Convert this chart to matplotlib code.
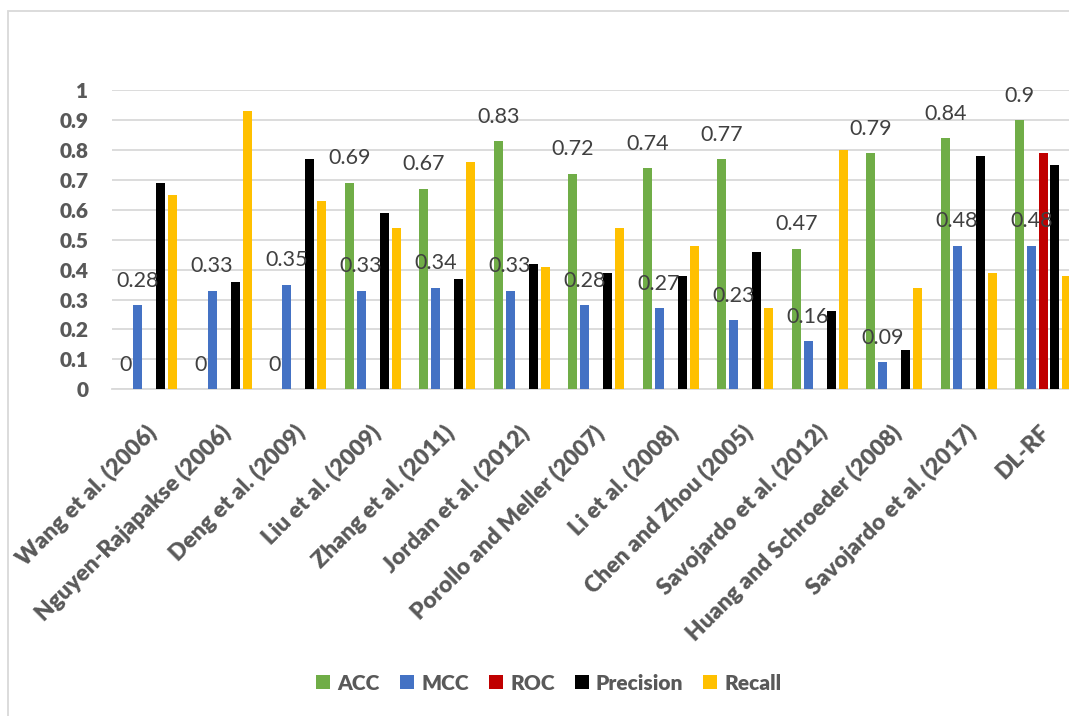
import matplotlib
matplotlib.use("Agg")
import matplotlib.pyplot as plt
from matplotlib.patches import Rectangle
from matplotlib.transforms import blended_transform_factory, ScaledTranslation
import numpy as np

plt.rcParams['font.family'] = ['Lato', 'DejaVu Sans']

methods = [
    "Wang et al. (2006)", "Nguyen-Rajapakse (2006)", "Deng et al. (2009)",
    "Liu et al. (2009)", "Zhang et al. (2011)", "Jordan et al. (2012)",
    "Porollo and Meller (2007)", "Li et al. (2008)", "Chen and Zhou (2005)",
    "Savojardo et al. (2012)", "Huang and Schroeder (2008)",
    "Savojardo et al. (2017)", "DL-RF",
]
acc = [0, 0, 0, 0.69, 0.67, 0.83, 0.72, 0.74, 0.77, 0.47, 0.79, 0.84, 0.90]
mcc = [0.28, 0.33, 0.35, 0.33, 0.34, 0.33, 0.28, 0.27, 0.23, 0.16, 0.09, 0.48, 0.48]
roc = [0, 0, 0, 0, 0, 0, 0, 0, 0, 0, 0, 0, 0.79]
precision = [0.69, 0.36, 0.77, 0.59, 0.37, 0.42, 0.39, 0.38, 0.46, 0.26, 0.13, 0.78, 0.75]
recall = [0.65, 0.93, 0.63, 0.54, 0.76, 0.41, 0.54, 0.48, 0.27, 0.80, 0.34, 0.39, 0.38]
y_ticks = [0, 0.1, 0.2, 0.3, 0.4, 0.5, 0.6, 0.7, 0.8, 0.9, 1.0]
y_tick_labels = ["0", "0.1", "0.2", "0.3", "0.4", "0.5", "0.6", "0.7", "0.8", "0.9", "1"]

series = [
    ("ACC", acc, "#70AD47", True),
    ("MCC", mcc, "#4472C4", True),
    ("ROC", roc, "#C00000", False),
    ("Precision", precision, "#000000", False),
    ("Recall", recall, "#FFC000", False),
]

W, H = 1069, 716
fig = plt.figure(figsize=(W / 100, H / 100), dpi=100)
ax = fig.add_axes([112 / W, (H - 389.3) / H, (1080.5 - 112) / W, 299.3 / H])

x = np.arange(len(methods))
slot = 0.157
bar_w = 0.12
text_grey = "#595959"

for i, (name, vals, color, labelled) in enumerate(series):
    offs = (i - 2) * slot
    ax.bar(x + offs, vals, width=bar_w, color=color, label=name, zorder=3)
    if labelled:
        for xi, v in zip(x, vals):
            ax.annotate(f"{v:g}", (xi + offs, v), xytext=(0, 17.5),
                        textcoords="offset points", ha="center", va="center",
                        fontsize=15.5, color="#404040", zorder=4,
                        annotation_clip=False)

ax.set_xlim(-0.5, len(methods) - 0.5)
ax.set_ylim(0, 1)
ax.set_yticks(y_ticks)
ax.set_yticklabels(y_tick_labels, fontsize=15, fontweight="heavy", color=text_grey)
ax.tick_params(axis="y", length=0, pad=17)
ax.set_xticks([])
ax.grid(axis="y", color="#D9D9D9", linewidth=1.3, zorder=0)
for side in ("top", "right", "left"):
    ax.spines[side].set_visible(False)
ax.spines["bottom"].set_color("#D9D9D9")
ax.spines["bottom"].set_linewidth(1.3)
ax.spines["bottom"].set_zorder(1)

# Rotated category labels anchored just below each group
trans = blended_transform_factory(ax.transData, ax.transAxes) + \
    ScaledTranslation(-4 / 100, -32 / 100, fig.dpi_scale_trans)
for xi, name in zip(x, methods):
    ax.text(xi, 0, name, transform=trans, rotation=45, rotation_mode="anchor",
            ha="right", va="top", fontsize=16.5, fontweight="heavy",
            color=text_grey, clip_on=False)

leg = fig.legend(loc="center", bbox_to_anchor=(549 / W, 1 - 683 / H), ncol=5,
                 frameon=False, handlelength=0.68, handleheight=0.68,
                 handletextpad=0.35, columnspacing=0.95,
                 prop={"size": 15, "weight": "heavy"})
for t in leg.get_texts():
    t.set_color(text_grey)

fig.add_artist(Rectangle((7.8 / W, -0.1), 2, 1.1 - 11 / H, transform=fig.transFigure,
                         fill=False, edgecolor="#D9D9D9", linewidth=1.3))

fig.savefig("out.png", dpi=100)
